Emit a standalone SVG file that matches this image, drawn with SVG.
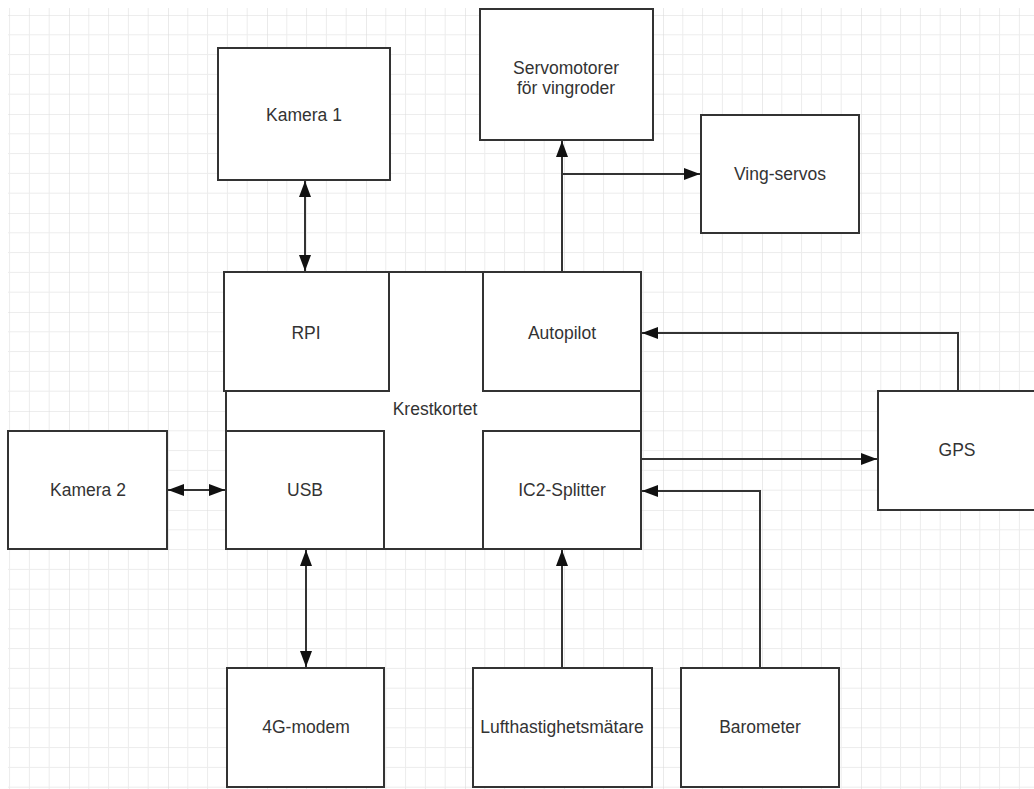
<svg xmlns="http://www.w3.org/2000/svg" width="1034" height="789" viewBox="0 0 1034 789">
<style>
.box{fill:#fff;stroke:#333;stroke-width:2}
.ln{fill:none;stroke:#333;stroke-width:2}
.t{font-family:"Liberation Sans",Arial,sans-serif;font-size:17.5px;fill:#333;text-anchor:middle;dominant-baseline:central}
</style>
<defs>
<pattern id="grid" patternUnits="userSpaceOnUse" x="-30" y="15" width="99" height="99">
<path d="M19.8 0V99M39.6 0V99M59.4 0V99M79.2 0V99M0 19.8H99M0 39.6H99M0 59.4H99M0 79.2H99" stroke="#ececec" stroke-width="1" fill="none"/>
<path d="M0 0V99M0 0H99" stroke="#dcdcdc" stroke-width="1.2" fill="none"/>
</pattern>
<marker id="ah" viewBox="0 0 16 12" refX="16" refY="6" markerWidth="16" markerHeight="12" markerUnits="userSpaceOnUse" orient="auto-start-reverse">
<path d="M0 0L16 6L0 12Z" fill="#111"/>
</marker>
</defs>
<rect width="1034" height="789" fill="#fff"/>
<rect x="8" y="8" width="1026" height="781" fill="url(#grid)"/>

<g id="kamera1"><rect class="box" x="218" y="48" width="172" height="132"/><text class="t" x="304" y="115">Kamera 1</text></g>
<g id="servomotorer"><rect class="box" x="480" y="9" width="173" height="131"/><text class="t" x="566" y="68">Servomotorer</text><text class="t" x="566" y="88">för vingroder</text></g>
<g id="vingservos"><rect class="box" x="701" y="115" width="158" height="118"/><text class="t" x="780" y="174">Ving-servos</text></g>
<g id="krestkortet"><rect class="box" x="226" y="272" width="415" height="277"/><text class="t" x="435" y="409">Krestkortet</text></g>
<g id="rpi"><rect class="box" x="224" y="272" width="165" height="119"/><text class="t" x="306" y="333">RPI</text></g>
<g id="autopilot"><rect class="box" x="483" y="272" width="158" height="119"/><text class="t" x="562" y="333">Autopilot</text></g>
<g id="usb"><rect class="box" x="226" y="431" width="158" height="118"/><text class="t" x="305" y="490">USB</text></g>
<g id="ic2"><rect class="box" x="483" y="431" width="158" height="118"/><text class="t" x="562" y="490">IC2-Splitter</text></g>
<g id="kamera2"><rect class="box" x="8" y="431" width="159" height="118"/><text class="t" x="88" y="490">Kamera 2</text></g>
<g id="gps"><rect class="box" x="878" y="391" width="160" height="119"/><text class="t" x="957" y="450">GPS</text></g>
<g id="modem"><rect class="box" x="227" y="668" width="157" height="119"/><text class="t" x="306" y="727">4G-modem</text></g>
<g id="luft"><rect class="box" x="473" y="668" width="179" height="119"/><text class="t" x="562" y="727">Lufthastighetsmätare</text></g>
<g id="barometer"><rect class="box" x="681" y="668" width="158" height="119"/><text class="t" x="760" y="727">Barometer</text></g>

<g id="connectors">
<line class="ln" x1="305" y1="181" x2="305" y2="271" marker-start="url(#ah)" marker-end="url(#ah)"/>
<line class="ln" x1="562" y1="272" x2="562" y2="141" marker-end="url(#ah)"/>
<line class="ln" x1="562" y1="174" x2="700" y2="174" marker-end="url(#ah)"/>
<polyline class="ln" points="958,391 958,333 642,333" marker-end="url(#ah)"/>
<line class="ln" x1="641" y1="459" x2="877" y2="459" marker-end="url(#ah)"/>
<polyline class="ln" points="760,668 760,491 642,491" marker-end="url(#ah)"/>
<line class="ln" x1="168" y1="490" x2="225" y2="490" marker-start="url(#ah)" marker-end="url(#ah)"/>
<line class="ln" x1="306" y1="550" x2="306" y2="667" marker-start="url(#ah)" marker-end="url(#ah)"/>
<line class="ln" x1="562" y1="668" x2="562" y2="550" marker-end="url(#ah)"/>
</g>
</svg>
